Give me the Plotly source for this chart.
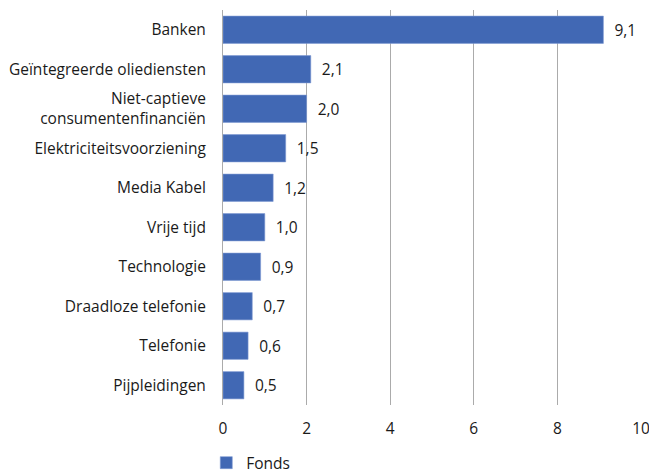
import plotly.graph_objects as go

categories = [
    "Banken",
    "Geïntegreerde oliediensten",
    "Niet-captieve<br>consumentenfinanciën",
    "Elektriciteitsvoorziening",
    "Media Kabel",
    "Vrije tijd",
    "Technologie",
    "Draadloze telefonie",
    "Telefonie",
    "Pijpleidingen",
]
values = [9.1, 2.1, 2.0, 1.5, 1.2, 1.0, 0.9, 0.7, 0.6, 0.5]
x_ticks = [0, 2, 4, 6, 8, 10]
series_name = "Fonds"

FONT = "Open Sans"
FS = 15.5

fig = go.Figure()
fig.add_trace(go.Bar(
    y=categories,
    x=values,
    orientation="h",
    name=series_name,
    marker=dict(color="#4168B4", line=dict(color="#7F9BD3", width=0.6)),
    texttemplate="\u00a0\u00a0%{x:.1f}",
    textposition="outside",
    textfont=dict(family=FONT, size=FS, color="#1a1a1a"),
    cliponaxis=False,
    showlegend=True,
))

fig.update_layout(
    width=649, height=473,
    margin=dict(l=223, r=8, t=10, b=68, autoexpand=False),
    paper_bgcolor="white",
    plot_bgcolor="white",
    separators=",.",
    font=dict(family=FONT, size=FS, color="#1a1a1a"),
    bargap=0.31,
    showlegend=True,
    legend=dict(
        orientation="h",
        x=-0.040, xanchor="left",
        y=-0.147, yanchor="middle",
        font=dict(family=FONT, size=FS, color="#1a1a1a"),
    ),
    xaxis=dict(
        range=[0, 10],
        tickvals=x_ticks,
        showgrid=True,
        gridcolor="#ABABAB",
        gridwidth=1,
        zeroline=False,
        showline=False,
        automargin=False,
        ticklabeloverflow="allow",
        ticklabelstandoff=12,
        tickfont=dict(family=FONT, size=FS, color="#1a1a1a"),
        fixedrange=True,
    ),
    yaxis=dict(
        autorange="reversed",
        showline=True,
        linecolor="#ABABAB",
        linewidth=1,
        automargin=False,
        ticklabelstandoff=13,
        tickfont=dict(family=FONT, size=FS, color="#1a1a1a"),
    ),
)

fig.write_html(
    "out.html",
    config={"displayModeBar": False, "staticPlot": True},
    post_script="document.body.style.margin='0';document.body.style.overflow='hidden';",
)
